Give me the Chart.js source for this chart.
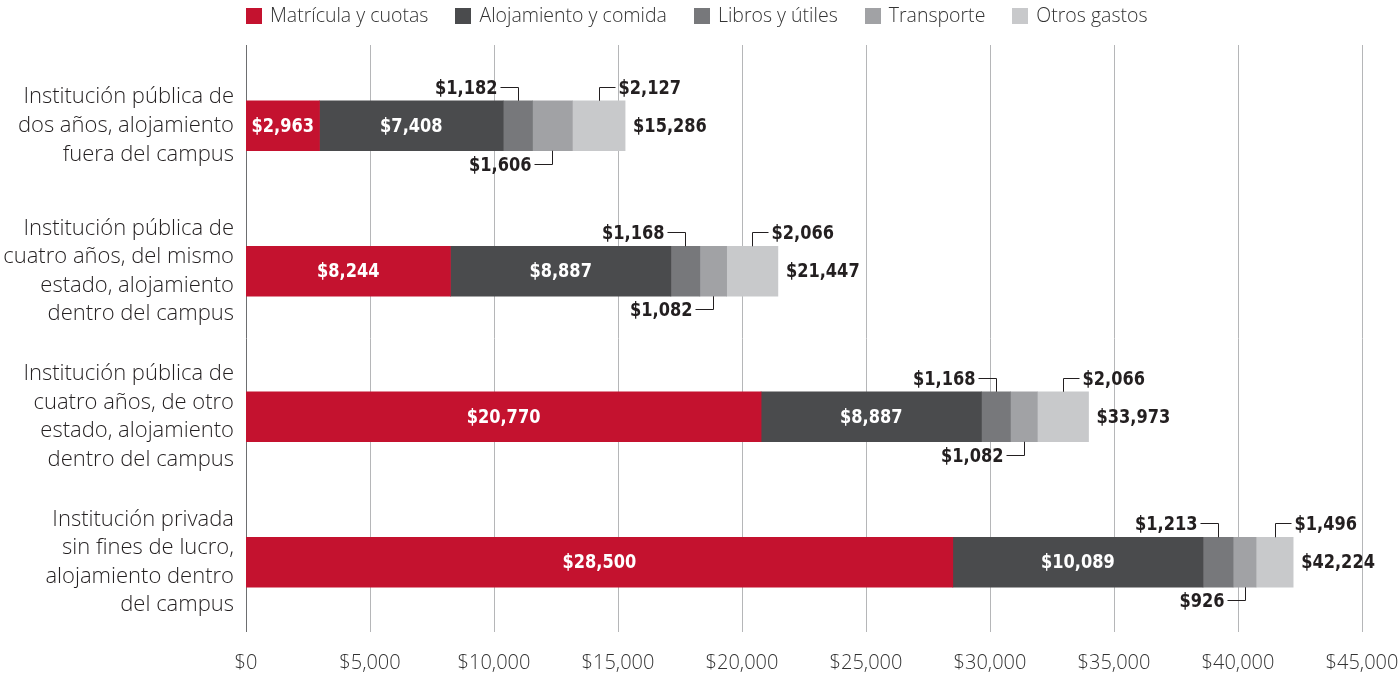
<!DOCTYPE html>
<html>
<head>
<meta charset="utf-8">
<script src="https://cdn.jsdelivr.net/npm/chart.js@4.4.1/dist/chart.umd.min.js"></script>
<style>
  html, body { margin: 0; padding: 0; background: #ffffff; }
  #wrap { width: 1400px; height: 677px; position: relative; }
</style>
</head>
<body>
<div id="wrap"><canvas id="c"></canvas></div>
<script>
const categories = [
  ['Institución pública de', 'dos años, alojamiento', 'fuera del campus'],
  ['Institución pública de', 'cuatro años, del mismo', 'estado, alojamiento', 'dentro del campus'],
  ['Institución pública de', 'cuatro años, de otro', 'estado, alojamiento', 'dentro del campus'],
  ['Institución privada', 'sin fines de lucro,', 'alojamiento dentro', 'del campus']
];
const seriesNames = ['Matrícula y cuotas', 'Alojamiento y comida', 'Libros y útiles', 'Transporte', 'Otros gastos'];
const matricula = [2963, 8244, 20770, 28500];
const alojamiento = [7408, 8887, 8887, 10089];
const libros = [1182, 1168, 1168, 1213];
const transporte = [1606, 1082, 1082, 926];
const otros = [2127, 2066, 2066, 1496];
const totals = [15286, 21447, 33973, 42224];
const xTicks = [0, 5000, 10000, 15000, 20000, 25000, 30000, 35000, 40000, 45000];

const colors = ['#c4122f', '#4a4b4d', '#77787b', '#a1a2a5', '#c8c9cb'];
const seriesValues = [matricula, alojamiento, libros, transporte, otros];

const fmt = v => '$' + v.toLocaleString('en-US');
const BOLD = 'bold 20px "DejaVu Sans Condensed", "DejaVu Sans", sans-serif';
const LIGHT = '"Open Sans", sans-serif';
const INK = '#231f20';

function boldText(ctx, text, x, y, align) {
  ctx.save();
  ctx.translate(x, y);
  ctx.scale(0.9, 1);
  ctx.textAlign = align;
  ctx.fillText(text, 0, 0);
  ctx.restore();
}

const gridPlugin = {
  id: 'customGrid',
  beforeDatasetsDraw(chart) {
    const { ctx, scales: { x } } = chart;
    ctx.save();
    ctx.lineWidth = 1;
    xTicks.forEach(t => {
      const px = Math.round(x.getPixelForValue(t)) + 0.5;
      ctx.strokeStyle = t === 0 ? '#6d6e70' : '#b5b6b8';
      ctx.beginPath();
      ctx.moveTo(px, 45);
      ctx.lineTo(px, 632);
      ctx.stroke();
    });
    ctx.restore();
  }
};

const legendPlugin = {
  id: 'topLegend',
  afterDraw(chart) {
    const ctx = chart.ctx;
    ctx.save();
    ctx.font = '300 19.5px ' + LIGHT;
    const items = chart.data.datasets.map(ds => ({ label: ds.label, color: ds.backgroundColor, w: ctx.measureText(ds.label).width }));
    const gap = 27;
    const total = items.reduce((s, it) => s + 24 + it.w, 0) + gap * (items.length - 1);
    let x = Math.round(697 - total / 2);
    ctx.textBaseline = 'middle';
    ctx.textAlign = 'left';
    items.forEach(it => {
      ctx.fillStyle = it.color;
      ctx.fillRect(Math.round(x), 8, 16, 16);
      ctx.fillStyle = '#333333';
      ctx.fillText(it.label, x + 24, 16.5);
      x += 24 + it.w + gap;
    });
    ctx.restore();
  }
};

const labelPlugin = {
  id: 'barLabels',
  afterDatasetsDraw(chart) {
    const { ctx } = chart;
    ctx.save();
    ctx.font = BOLD;
    ctx.textBaseline = 'middle';
    ctx.lineWidth = 1;
    ctx.strokeStyle = INK;
    categories.forEach((cat, i) => {
      const els = seriesValues.map((_, d) => chart.getDatasetMeta(d).data[i]);
      const mid = el => (el.x + el.base) / 2;
      const top = els[0].y - els[0].height / 2;
      const bottom = els[0].y + els[0].height / 2;
      const cy = els[0].y;
      ctx.fillStyle = '#ffffff';
      [0, 1].forEach(d => boldText(ctx, fmt(seriesValues[d][i]), mid(els[d]), cy + 1, 'center'));
      ctx.fillStyle = INK;
      // Libros: above, to the left
      let cx = Math.round(mid(els[2])) + 0.5;
      let ly = Math.round(top - 14) + 0.5;
      ctx.beginPath();
      ctx.moveTo(cx, top); ctx.lineTo(cx, ly); ctx.lineTo(cx - 18, ly); ctx.stroke();
      boldText(ctx, fmt(libros[i]), cx - 21, ly + 1, 'right');
      // Transporte: below, to the left
      cx = Math.round(mid(els[3])) + 0.5;
      ly = Math.round(bottom + 13) + 0.5;
      ctx.beginPath();
      ctx.moveTo(cx, bottom); ctx.lineTo(cx, ly); ctx.lineTo(cx - 18, ly); ctx.stroke();
      boldText(ctx, fmt(transporte[i]), cx - 21, ly + 1, 'right');
      // Otros: above, to the right
      cx = Math.round(mid(els[4])) + 0.5;
      ly = Math.round(top - 14) + 0.5;
      ctx.beginPath();
      ctx.moveTo(cx, top); ctx.lineTo(cx, ly); ctx.lineTo(cx + 16, ly); ctx.stroke();
      boldText(ctx, fmt(otros[i]), cx + 19, ly + 1, 'left');
      // Total
      boldText(ctx, fmt(totals[i]), els[4].x + 8, cy + 1, 'left');
    });
    ctx.restore();
  }
};

new Chart(document.getElementById('c'), {
  type: 'bar',
  data: {
    labels: categories,
    datasets: seriesNames.map((name, d) => ({
      label: name,
      data: seriesValues[d],
      backgroundColor: colors[d],
      borderWidth: 0,
      barThickness: 50
    }))
  },
  options: {
    indexAxis: 'y',
    responsive: true,
    maintainAspectRatio: false,
    animation: false,
    layout: { padding: { top: 53, right: 38, bottom: 0, left: 0 } },
    plugins: {
      legend: { display: false },
      tooltip: { enabled: false }
    },
    scales: {
      x: {
        stacked: true,
        min: 0,
        max: 45000,
        grid: { display: false, drawTicks: false },
        border: { display: false },
        afterFit: s => { s.height = 42; s.paddingLeft = 0; s.paddingRight = 0; },
        ticks: {
          stepSize: 5000,
          padding: 16,
          maxRotation: 0,
          color: '#333333',
          font: { family: LIGHT, size: 20, weight: 300 },
          callback: v => fmt(v)
        }
      },
      y: {
        stacked: true,
        grid: { display: false, drawTicks: false },
        border: { display: false },
        afterFit: s => { s.width = 246; s.paddingTop = 0; s.paddingBottom = 0; },
        ticks: {
          padding: 12,
          color: '#231f20',
          font: { family: LIGHT, size: 22, weight: 300, lineHeight: 1.3 }
        }
      }
    }
  },
  plugins: [gridPlugin, labelPlugin, legendPlugin]
});
</script>
</body>
</html>
